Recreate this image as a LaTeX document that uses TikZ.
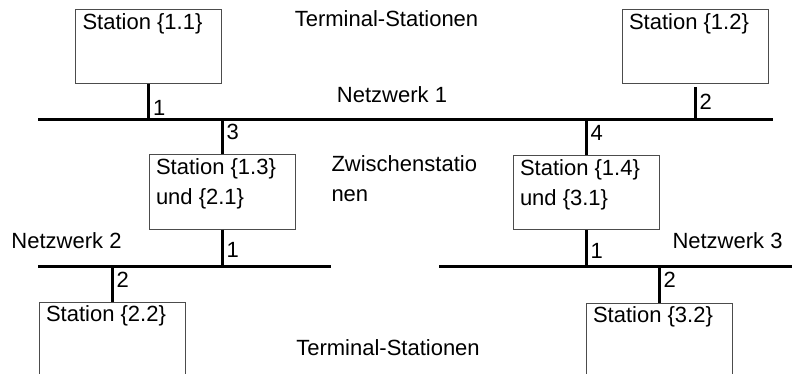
\documentclass[tikz,border=0pt]{standalone}
\usepackage{fontspec}
\setmainfont{Liberation Sans}
\usetikzlibrary{positioning,calc}
\tikzset{
    every picture/.style={line width=1pt},
    station/.style={draw=black!70,line width=1pt,minimum width=146pt,minimum height=74pt,inner sep=0pt},
    boxtext/.style={anchor=north west,align=left,inner xsep=7pt,inner ysep=4pt,font=\fontsize{22}{30}\selectfont},
    bus/.style={line width=3pt},
    link/.style={line width=3pt},
    num/.style={anchor=west,inner xsep=3pt,inner ysep=0pt,font=\fontsize{22}{26}\selectfont},
    caption/.style={inner sep=0pt,font=\fontsize{22}{30}\selectfont}
}
\begin{document}
\begin{tikzpicture}[x=1pt,y=-1pt]
    \clip (0,0) rectangle (792,374);
    % terminal stations, top row
    \node[station] (s11) at (148.5,47) {};
    \node[station] (s12) at (695,46.5) {};
    % intermediate stations
    \node[station] (s13) at (222,192) {};
    \node[station] (s14) at (586,192.5) {};
    % terminal stations, bottom row
    \node[station] (s22) at (112,339) {};
    \node[station] (s32) at (659,340) {};

    \node[boxtext] (t11) at (s11.north west) {Station \{1.1\}};
    \node[boxtext] (t12) at (s12.north west) {Station \{1.2\}};
    \node[boxtext] (t13) at (s13.north west) {Station \{1.3\}\\und \{2.1\}};
    \node[boxtext] (t14) at (s14.north west) {Station \{1.4\}\\und \{3.1\}};
    \node[boxtext] (t22) at (s22.north west) {Station \{2.2\}};
    \node[boxtext] (t32) at (s32.north west) {Station \{3.2\}};

    % the three networks
    \coordinate (n1w) at (38,120);
    \coordinate (n1e) at (773,120);
    \coordinate (n2w) at (38,266);
    \coordinate (n2e) at (331,266);
    \coordinate (n3w) at (439,266);
    \coordinate (n3e) at (795,266);
    \draw[bus] (n1w) -- (n1e);
    \draw[bus] (n2w) -- (n2e);
    \draw[bus] (n3w) -- (n3e);

    % attachments with their numbers
    \draw[link] (s11.south) -- node[num,pos=0.67] {1} (s11.south |- n1w);
    \draw[link,shorten <=3pt] (s12.south) -- node[num,pos=0.5] {2} (s12.south |- n1w);
    \draw[link] (s13.north) -- node[num,pos=0.66] {3} (s13.north |- n1w);
    \draw[link] (s14.north) -- node[num,pos=0.63] {4} (s14.north |- n1w);
    \draw[link] (s13.south) -- node[num,pos=0.57] {1} (s13.south |- n2w);
    \draw[link] (s22.north) -- node[num,pos=0.61] {2} (s22.north |- n2w);
    \draw[link] (s14.south) -- node[num,pos=0.57] {1} (s14.south |- n3w);
    \draw[link] (s32.north) -- node[num,pos=0.62] {2} (s32.north |- n3w);

    % captions
    \node[caption,anchor=base] (term1) at (386.5,27) {Terminal-Stationen};
    \node[caption,anchor=base] (net1) at (392,103) {Netzwerk 1};
    \node[caption,anchor=north west,align=left] (zw) at (331,155) {Zwischenstatio\\nen};
    \node[caption,anchor=base west] (net2) at (11,248) {Netzwerk 2};
    \node[caption,anchor=base west] (net3) at (672,248) {Netzwerk 3};
    \node[caption,anchor=base] (term2) at (388,355) {Terminal-Stationen};
\end{tikzpicture}
\end{document}
